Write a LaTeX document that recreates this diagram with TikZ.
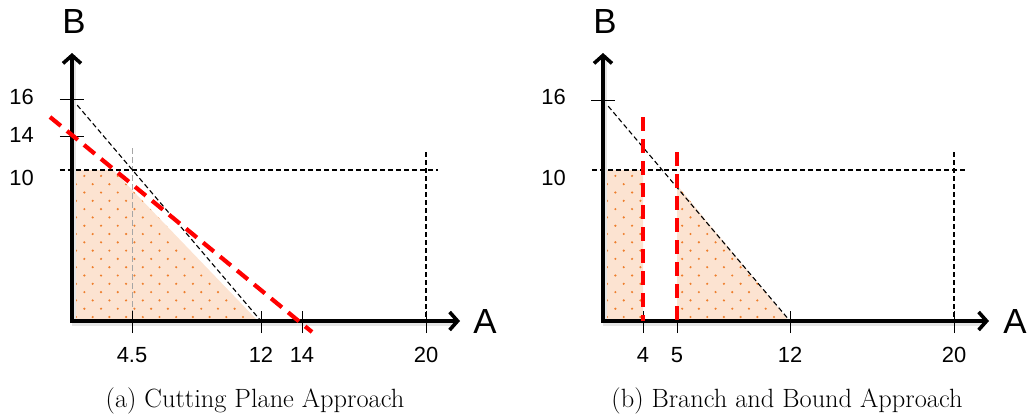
\documentclass[tikz,border=0pt]{standalone}
\usepackage{fontspec}
\newfontfamily\axisfont{Liberation Sans}
\usetikzlibrary{arrows.meta}
\definecolor{peach}{HTML}{FCE3D1}
\definecolor{speck}{HTML}{EE7E2C}
\tikzset{
  axisline/.style={line width=3.6bp, line join=miter,
    {Straight Barb[length=8bp,width=18bp]}-{Straight Barb[length=8bp,width=18bp]}},
  axisshadow/.style={line width=4bp, draw=black!10},
  tick/.style={line width=1bp},
  bound/.style={line width=1.1bp, dash pattern=on 5bp off 3bp},
  cutline/.style={line width=4.2bp, red, dash pattern=on 14bp off 8bp},
  ticklabel/.style={font=\fontsize{22}{26}\axisfont, inner sep=0pt},
  axislabel/.style={font=\fontsize{35}{40}\axisfont, inner sep=0pt},
  caption/.style={font=\fontsize{26.5}{30}\selectfont, inner sep=0pt, anchor=base}
}
\newcommand{\speckles}{%
  \fill[peach] (0,0) rectangle (200,160);
  \foreach \j in {0,...,18}
    \foreach \i in {0,...,12}
      \fill[speck] ({4+\i*16.7+mod(\j,2)*8.35},{4+\j*8.3}) circle (1.2bp);}
\begin{document}
\begin{tikzpicture}[x=1bp,y=1bp]
    \useasboundingbox (-72,-93) rectangle (960,321);
    % (a) cutting plane
    \begin{scope}
    \clip (0,0) -- (0,151) -- (41,151) -- (186,0) -- cycle;
    \speckles
    \end{scope}
    \draw [gray!70, line width=1bp, dash pattern=on 6bp off 3bp] (60,173) -- (60,0);
    \draw [bound] (0,222) -- (189,0);
    \draw [bound] (-12,151) -- (366,151);
    \draw [bound] (354,169) -- (354,0);
    \draw [axisshadow] (2,266) -- (2,-2.5) -- (384,-2.5);
    \draw [axisline] (0,268) -- (0,0) -- (388,0);
    \draw [tick] (-12,222) -- (12,222);
    \draw [tick] (-12,185) -- (12,185);
    \draw [tick] (60,-12) -- (60,10);
    \draw [tick] (189,-12) -- (189,10);
    \draw [tick] (230,-12) -- (230,10);
    \draw [tick] (354,-12) -- (354,10);
    \draw [cutline] (-22,204) -- (240,-11);
    \node [ticklabel, anchor=east] (a16) at (-38,224) {16};
    \node [ticklabel, anchor=east] (a14) at (-38,186) {14};
    \node [ticklabel, anchor=east] (a10) at (-38,143) {10};
    \node [ticklabel] (a45) at (60,-34) {4.5};
    \node [ticklabel] (a12) at (189,-34) {12};
    \node [ticklabel] (a14b) at (230,-34) {14};
    \node [ticklabel] (a20) at (354,-34) {20};
    \node [axislabel] (aB) at (2,299) {B};
    \node [axislabel] (aA) at (413,-1) {A};
    \node [caption] (capa) at (183,-86) {(a) Cutting Plane Approach};
    % (b) branch and bound
    \begin{scope}[shift={(531,0)}]
    \begin{scope}
    \clip (0,0) -- (0,151) -- (40,151) -- (40,0) -- cycle
          (74,0) -- (74,136) -- (186,0) -- cycle;
    \speckles
    \end{scope}
    \draw [bound] (0,221) -- (187,0);
    \draw [bound] (-11,151) -- (364,151);
    \draw [bound] (351,169) -- (351,0);
    \draw [axisshadow] (2,266) -- (2,-2.5) -- (382,-2.5);
    \draw [axisline] (0,268) -- (0,0) -- (386,0);
    \draw [tick] (-12,221) -- (12,221);
    \draw [tick] (40,-12) -- (40,10);
    \draw [tick] (74,-12) -- (74,10);
    \draw [tick] (187,-12) -- (187,10);
    \draw [tick] (351,-12) -- (351,10);
    \draw [cutline] (40,204) -- (40,0);
    \draw [cutline] (74,169) -- (74,0);
    \node [ticklabel, anchor=east] (b16) at (-37,224) {16};
    \node [ticklabel, anchor=east] (b10) at (-37,143) {10};
    \node [ticklabel] (b4) at (40,-34) {4};
    \node [ticklabel] (b5) at (74,-34) {5};
    \node [ticklabel] (b12) at (187,-34) {12};
    \node [ticklabel] (b20) at (351,-34) {20};
    \node [axislabel] (bB) at (2,299) {B};
    \node [axislabel] (bA) at (412,-1) {A};
    \node [caption] (capb) at (184,-86) {(b) Branch and Bound Approach};
    \end{scope}
\end{tikzpicture}
\end{document}
